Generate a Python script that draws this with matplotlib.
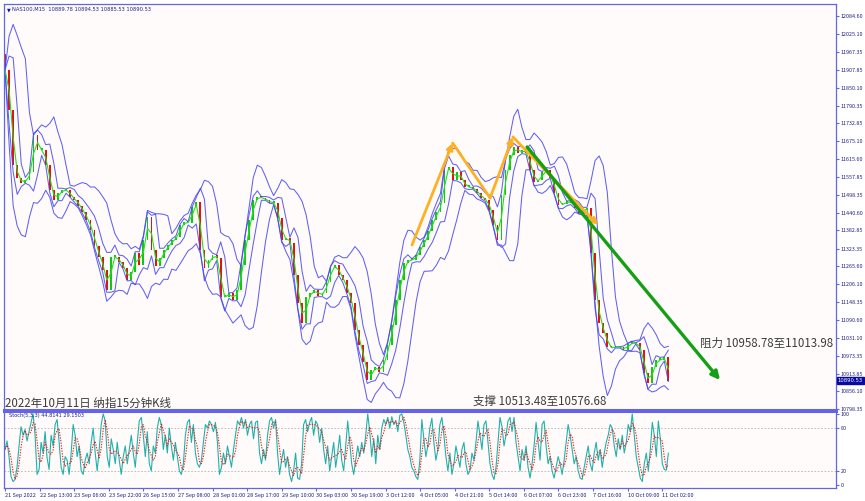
import numpy as np
import pandas as pd
import matplotlib
matplotlib.use("Agg")
import matplotlib.pyplot as plt

plt.rcParams['font.family'] = ['Noto Sans CJK SC', 'DejaVu Sans']

closes = [
    11908, 11777, 11597, 11554, 11538, 11548, 11574, 11695, 11646, 11646,
    11597, 11515, 11482, 11505, 11515, 11515, 11492, 11482, 11463, 11443,
    11417, 11384, 11332, 11296, 11253, 11188, 11296, 11296, 11279, 11260,
    11221, 11247, 11309, 11270, 11352, 11427, 11319, 11266, 11293, 11319,
    11335, 11352, 11361, 11401, 11410, 11407, 11459, 11476, 11319, 11260,
    11286, 11302, 11293, 11165, 11165, 11178, 11155, 11188, 11270, 11352,
    11417, 11482, 11492, 11489, 11482, 11473, 11473, 11423, 11352, 11358,
    11342, 11237, 11145, 11080, 11165, 11178, 11188, 11168, 11178, 11214,
    11260, 11270, 11237, 11221, 11178, 11145, 11057, 11008, 10952, 10893,
    10926, 10936, 10919, 10959, 11008, 11073, 11155, 11221, 11276, 11286,
    11286, 11302, 11329, 11352, 11381, 11417, 11443, 11473, 11581, 11591,
    11548, 11574, 11548, 11525, 11525, 11518, 11505, 11489, 11482, 11450,
    11401, 11352, 11499, 11581, 11630, 11656, 11636, 11646, 11636, 11581,
    11541, 11548, 11574, 11581, 11554, 11505, 11466, 11469, 11479, 11473,
    11456, 11440, 11450, 11456, 11309, 11155, 11080, 11047, 11001, 10998,
    11001, 11001, 10991, 11011, 11014, 11014, 10991, 10916, 10883, 10936,
    10959, 10959, 10969, 10890.53,
]
first_open = 11960

# Stoch(5,3,3) main line (one value per hour)
stoch_main = [
    50, 62, 40, 12, 5, 8, 25, 55, 82, 70, 78, 62, 75, 88, 100, 70, 15, 22, 60, 45,
    75, 38, 22, 70, 55, 85, 92, 60, 25, 15, 40, 35, 15, 45, 85, 70, 40, 55, 20, 15,
    35, 45, 30, 60, 80, 45, 20, 50, 85, 100, 90, 40, 25, 65, 50, 30, 60, 35, 15, 40,
    55, 30, 50, 70, 45, 25, 60, 90, 95, 70, 40, 75, 30, 20, 55, 45, 80, 95, 85, 50,
    70, 45, 80, 55, 35, 60, 40, 20, 15, 30, 70, 88, 92, 60, 85, 45, 30, 25, 35, 60,
    85, 80, 90, 85, 75, 88, 60, 15, 25, 45, 30, 55, 40, 25, 50, 70, 90, 85, 95, 80,
    92, 70, 85, 90, 65, 88, 90, 45, 30, 50, 35, 70, 90, 95, 80, 92, 45, 15, 35, 50,
    25, 40, 15, 5, 20, 45, 10, 8, 30, 85, 92, 75, 88, 95, 70, 90, 85, 60, 80, 50,
    30, 55, 20, 40, 60, 25, 45, 70, 35, 20, 55, 90, 60, 30, 15, 35, 55, 40, 60, 45,
    70, 100, 75, 40, 65, 30, 70, 50, 80, 92, 85, 95, 80, 96, 85, 90, 75, 98, 100, 88,
    70, 50, 40, 25, 20, 12, 8, 35, 92, 65, 40, 55, 80, 94, 60, 35, 50, 85, 95, 70,
    40, 20, 45, 15, 30, 55, 40, 25, 50, 60, 30, 15, 20, 45, 35, 60, 90, 70, 50, 85,
    90, 60, 30, 15, 8, 25, 60, 95, 82, 55, 70, 90, 95, 75, 95, 60, 40, 20, 50, 35,
    55, 25, 10, 30, 55, 88, 60, 35, 85, 90, 55, 30, 40, 20, 10, 25, 40, 30, 15, 35,
    60, 85, 70, 50, 30, 40, 20, 10, 8, 25, 40, 55, 30, 20, 45, 60, 35, 50, 25, 45,
    60, 70, 85, 80, 55, 40, 65, 50, 70, 45, 60, 85, 75, 100, 70, 40, 25, 10, 5, 30,
    45, 20, 50, 88, 70, 40, 90, 65, 30, 22, 21, 44.81,
]

price_ticks = [12084.60, 12025.10, 11967.35, 11907.85, 11850.10, 11790.35,
               11732.85, 11675.10, 11615.60, 11557.85, 11498.35, 11440.60,
               11382.85, 11323.35, 11265.60, 11206.10, 11148.35, 11090.60,
               11031.10, 10973.35, 10913.85, 10856.10, 10798.35]

date_labels = ["21 Sep 2022", "22 Sep 13:00", "23 Sep 06:00", "23 Sep 22:00",
               "26 Sep 15:00", "27 Sep 08:00", "28 Sep 01:00", "28 Sep 17:00",
               "29 Sep 10:00", "30 Sep 03:00", "30 Sep 19:00", "3 Oct 12:00",
               "4 Oct 05:00", "4 Oct 21:00", "5 Oct 14:00", "6 Oct 07:00",
               "6 Oct 23:00", "7 Oct 16:00", "10 Oct 09:00", "11 Oct 02:00"]
candles_per_label = 8.5   # 17 hours between labels, 2h per candle

# hand-drawn analysis lines (candle index, price)
yellow_x = [100, 110, 119.2, 124.8, 145.7]
yellow_y = [11335, 11669, 11489, 11689, 11401]
green_x = [128.3, 175.7]
green_y = [11656, 10893]

resist_text = "阻力 10958.78至11013.98"
support_text = "支撑 10513.48至10576.68"
title_text = "2022年10月11日 纳指15分钟K线"
info_text = "NAS100,M15  10889.78 10894.53 10885.53 10890.53"
stoch_text = "Stoch(5,3,3) 44.8141 29.1503"
last_price = 10890.53

# ---- derived series ----
c = pd.Series(closes, dtype=float)
o = pd.Series([first_open] + closes[:-1], dtype=float)
idx = np.arange(len(c))

mid6 = c.rolling(6, min_periods=1).mean()
sd6 = c.rolling(6, min_periods=2).std().fillna(0)
mid3 = c.rolling(3, min_periods=1).mean()
sd3 = c.rolling(3, min_periods=2).std().fillna(0)

k_main = pd.Series(stoch_main, dtype=float)
k_sig = k_main.rolling(3, min_periods=1).mean()
k_x = np.arange(len(k_main)) * (idx[-1] / (len(k_main) - 1))

# ---- figure ----
W, H = 865, 501
fig = plt.figure(figsize=(W / 100, H / 100), dpi=100, facecolor="white")
bg = "#fffbfb"
blue = "#6464e6"
lab = "#20208a"

ax = fig.add_axes([4 / W, 1 - 410 / H, 832 / W, 406 / H], facecolor=bg)
ax2 = fig.add_axes([4 / W, 1 - 488 / H, 832 / W, 77 / H], facecolor=bg, sharex=ax)

ax.set_xlim(-0.25, 204.2)
ax.set_ylim(10795, 12124)

# bands
for mid, sd, k in [(mid6, sd6, 1.9), (mid3, sd3, 1.2)]:
    ax.plot(idx, mid + k * sd, color="#4646f0", lw=0.75, alpha=0.85)
    ax.plot(idx, mid - k * sd, color="#4646f0", lw=0.75, alpha=0.85)

# candles
up = c >= o
body = np.where(np.abs(c - o) < 5, 5, c - o)
ax.bar(idx, body, bottom=o, width=0.45,
       color=np.where(up, "#10c810", "#e81010"), linewidth=0)
ax.plot(idx, c.rolling(2, min_periods=1).mean(), color="#22dd22", lw=0.8)

# analysis arrows
for i in range(len(yellow_x) - 1):
    head = i in (0, 2, 3)
    ax.annotate("", xy=(yellow_x[i + 1], yellow_y[i + 1]), xytext=(yellow_x[i], yellow_y[i]),
                arrowprops=dict(arrowstyle="-|>" if head else "-", color="#ffb020",
                                lw=2.0, mutation_scale=9, shrinkA=0, shrinkB=0))
ax.annotate("", xy=(green_x[1], green_y[1]), xytext=(green_x[0], green_y[0]),
            arrowprops=dict(arrowstyle="-|>", color="#14a014", lw=2.4,
                            mutation_scale=12, shrinkA=0, shrinkB=0))

ax.text(170.8, 11014, resist_text, fontsize=8.3, color="#3c3c3c", va="center", ha="left")
ax.text(115.0, 10824, support_text, fontsize=8.3, color="#3c3c3c", va="center", ha="left")
ax.text(0.0, 10818, title_text, fontsize=8.3, color="#3c3c3c", va="center", ha="left")
ax.text(0.003, 0.992, "▼", transform=ax.transAxes, fontsize=3.5, color="#1010a0",
        va="top", ha="left", family="DejaVu Sans")
ax.text(0.010, 0.993, info_text, transform=ax.transAxes, fontsize=3.7, color=lab,
        va="top", ha="left", family="DejaVu Sans")

# right price axis
ax.yaxis.tick_right()
ax.set_yticks(price_ticks)
ax.set_yticklabels([f"{v:.2f}" for v in price_ticks])
ax.tick_params(axis="y", labelsize=3.9, labelcolor=lab, color=blue, length=2, pad=1.5)
ax.tick_params(axis="x", bottom=False, labelbottom=False)
ax.text(1.002, (last_price - 10795) / (12124 - 10795), f"{last_price:.2f}",
        transform=ax.transAxes, fontsize=3.8, color="white", va="center", ha="left",
        family="DejaVu Sans",
        bbox=dict(boxstyle="square,pad=0.2", fc="#0a0aa0", ec="#0a0aa0"))

for a in (ax, ax2):
    for s in a.spines.values():
        s.set_color(blue)
        s.set_linewidth(0.9)
ax.spines["bottom"].set_linewidth(2.2)
ax2.spines["top"].set_linewidth(2.2)

# stochastic panel
ax2.set_ylim(-4, 104)
ax2.axhline(80, color="#b4b4b4", lw=0.6, ls=(0, (2, 2)))
ax2.axhline(20, color="#b4b4b4", lw=0.6, ls=(0, (2, 2)))
ax2.plot(k_x, k_main, color="#20b2aa", lw=0.8)
ax2.plot(k_x, k_sig, color="#ee2020", lw=0.8, ls=(0, (1.2, 1.2)))
ax2.text(0.006, 0.97, stoch_text, transform=ax2.transAxes, fontsize=3.6, color=lab,
         va="top", ha="left", family="DejaVu Sans")
ax2.yaxis.tick_right()
ax2.set_yticks([100, 80, 20, 0])
ax2.tick_params(axis="y", labelsize=3.9, labelcolor=lab, color=blue, length=2, pad=1.5)

tick_pos = [k * candles_per_label for k in range(len(date_labels))]
ax2.set_xticks(tick_pos)
ax2.set_xticklabels(date_labels, ha="left")
ax2.tick_params(axis="x", labelsize=4.0, labelcolor=lab, color=blue, length=2, pad=1.5)

fig.savefig("out.png", dpi=100, facecolor=fig.get_facecolor())
